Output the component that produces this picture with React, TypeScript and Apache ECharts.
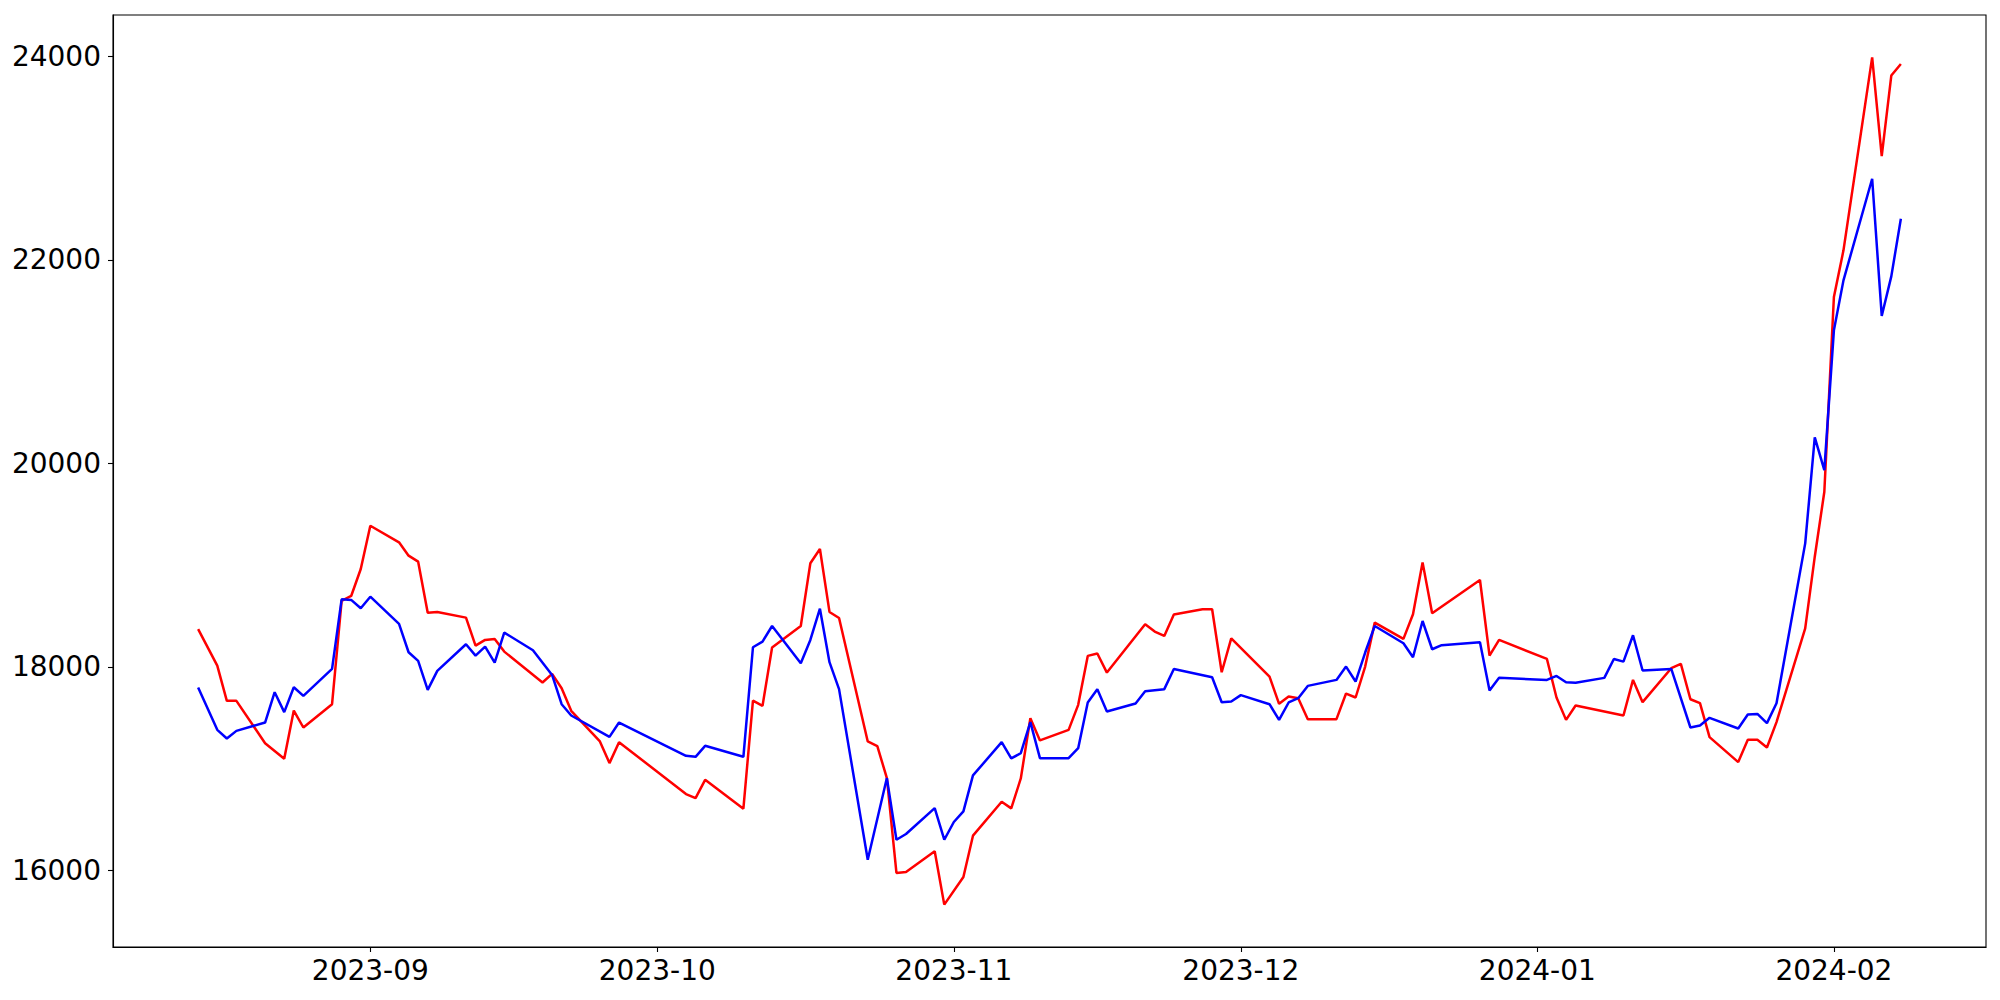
import React, { useEffect, useRef } from "react";
import * as echarts from "echarts";

const redDates: string[] = [
  "2023-08-14","2023-08-16","2023-08-17","2023-08-18","2023-08-21","2023-08-23","2023-08-24","2023-08-25",
  "2023-08-28","2023-08-29","2023-08-30","2023-08-31","2023-09-01","2023-09-04","2023-09-05","2023-09-06",
  "2023-09-07","2023-09-08","2023-09-11","2023-09-12","2023-09-13","2023-09-14","2023-09-15","2023-09-19",
  "2023-09-20","2023-09-21","2023-09-22","2023-09-25","2023-09-26","2023-09-27","2023-10-04","2023-10-05",
  "2023-10-06","2023-10-10","2023-10-11","2023-10-12","2023-10-13","2023-10-16","2023-10-17","2023-10-18",
  "2023-10-19","2023-10-20","2023-10-23","2023-10-24","2023-10-25","2023-10-26","2023-10-27","2023-10-30",
  "2023-10-31","2023-11-02","2023-11-03","2023-11-06","2023-11-07","2023-11-08","2023-11-09","2023-11-10",
  "2023-11-13","2023-11-14","2023-11-15","2023-11-16","2023-11-17","2023-11-21","2023-11-22","2023-11-23",
  "2023-11-24","2023-11-27","2023-11-28","2023-11-29","2023-11-30","2023-12-04","2023-12-05","2023-12-06",
  "2023-12-07","2023-12-08","2023-12-11","2023-12-12","2023-12-13","2023-12-14","2023-12-15","2023-12-18",
  "2023-12-19","2023-12-20","2023-12-21","2023-12-26","2023-12-27","2023-12-28","2024-01-02","2024-01-03",
  "2024-01-04","2024-01-05","2024-01-10","2024-01-11","2024-01-12","2024-01-15","2024-01-16","2024-01-17",
  "2024-01-18","2024-01-19","2024-01-22","2024-01-23","2024-01-24","2024-01-25","2024-01-26","2024-01-29",
  "2024-01-30","2024-01-31","2024-02-01","2024-02-02","2024-02-05","2024-02-06","2024-02-07","2024-02-08",
];
const redValues: number[] = [
  18370,18012,17665,17665,17249,17096,17570,17403,
  17632,18647,18696,18961,19386,19223,19092,19033,
  18532,18539,18483,18208,18264,18274,18149,17845,
  17930,17789,17567,17266,17053,17259,16749,16709,
  16889,16605,17668,17616,18189,18401,19017,19157,
  18539,18480,17266,17220,16906,15973,15983,16186,
  15662,15934,16340,16673,16608,16902,17495,17276,
  17380,17626,18107,18130,17943,18418,18346,18303,
  18513,18565,18565,17946,18280,17904,17636,17708,
  17691,17485,17485,17737,17698,18002,18434,18274,
  18516,19026,18526,18853,18110,18264,18077,17698,
  17478,17619,17521,17871,17652,17986,18028,17681,
  17642,17308,17063,17282,17282,17207,17456,18378,
  19082,19720,21634,22093,23990,23019,23811,23925,
];

const blueDates: string[] = [
  "2023-08-14","2023-08-16","2023-08-17","2023-08-18","2023-08-21","2023-08-22","2023-08-23","2023-08-24",
  "2023-08-25","2023-08-28","2023-08-29","2023-08-30","2023-08-31","2023-09-01","2023-09-04","2023-09-05",
  "2023-09-06","2023-09-07","2023-09-08","2023-09-11","2023-09-12","2023-09-13","2023-09-14","2023-09-15",
  "2023-09-18","2023-09-20","2023-09-21","2023-09-22","2023-09-26","2023-09-27","2023-10-04","2023-10-05",
  "2023-10-06","2023-10-10","2023-10-11","2023-10-12","2023-10-13","2023-10-16","2023-10-17","2023-10-18",
  "2023-10-19","2023-10-20","2023-10-23","2023-10-25","2023-10-26","2023-10-27","2023-10-30","2023-10-31",
  "2023-11-01","2023-11-02","2023-11-03","2023-11-06","2023-11-07","2023-11-08","2023-11-09","2023-11-10",
  "2023-11-13","2023-11-14","2023-11-15","2023-11-16","2023-11-17","2023-11-20","2023-11-21","2023-11-23",
  "2023-11-24","2023-11-28","2023-11-29","2023-11-30","2023-12-01","2023-12-04","2023-12-05","2023-12-06",
  "2023-12-07","2023-12-08","2023-12-11","2023-12-12","2023-12-13","2023-12-14","2023-12-15","2023-12-18",
  "2023-12-19","2023-12-20","2023-12-21","2023-12-22","2023-12-26","2023-12-27","2023-12-28","2024-01-02",
  "2024-01-03","2024-01-04","2024-01-05","2024-01-08","2024-01-09","2024-01-10","2024-01-11","2024-01-12",
  "2024-01-15","2024-01-17","2024-01-18","2024-01-19","2024-01-22","2024-01-23","2024-01-24","2024-01-25",
  "2024-01-26","2024-01-29","2024-01-30","2024-01-31","2024-02-01","2024-02-02","2024-02-05","2024-02-06",
  "2024-02-07","2024-02-08",
];
const blueValues: number[] = [
  17796,17380,17295,17370,17452,17750,17554,17799,
  17714,17979,18663,18657,18575,18689,18421,18143,
  18058,17773,17960,18221,18110,18198,18041,18336,
  18162,17920,17632,17521,17311,17452,17125,17115,
  17223,17115,18192,18247,18401,18035,18264,18571,
  18045,17780,16104,16906,16300,16356,16611,16300,
  16474,16579,16932,17259,17099,17151,17456,17102,
  17102,17200,17649,17780,17560,17639,17760,17780,
  17979,17897,17652,17659,17721,17632,17478,17649,
  17691,17812,17871,18002,17855,18140,18401,18231,
  18094,18450,18172,18212,18241,17766,17891,17871,
  17910,17848,17842,17891,18077,18051,18310,17963,
  17979,17403,17423,17498,17393,17531,17537,17446,
  17642,19213,20254,19933,21307,21798,22797,21448,
  21837,22404,
];

const xTickLabels: string[] = ["2023-09", "2023-10", "2023-11", "2023-12", "2024-01", "2024-02"];
const yTickValues: number[] = [16000, 18000, 20000, 22000, 24000];

const toTs = (s: string) => {
  const [y, m, d] = s.split("-").map(Number);
  return Date.UTC(y, m - 1, d ?? 1);
};

export default function App() {
  const ref = useRef<HTMLDivElement>(null);
  useEffect(() => {
    if (!ref.current) return;
    const chart = echarts.init(ref.current, undefined, { renderer: "svg" });
    const redData = redDates.map((d, i) => [toTs(d), redValues[i]]);
    const blueData = blueDates.map((d, i) => [toTs(d), blueValues[i]]);
    const allTs = [...redData, ...blueData].map((p) => p[0]);
    const allV = [...redValues, ...blueValues];
    const tMin = Math.min(...allTs);
    const tMax = Math.max(...allTs);
    const vMin = Math.min(...allV);
    const vMax = Math.max(...allV);
    const tPad = (tMax - tMin) * 0.05;
    const vPad = (vMax - vMin) * 0.05;
    const xTicks = xTickLabels.map(toTs);
    const labelOf: Record<number, string> = {};
    xTicks.forEach((t, i) => (labelOf[t] = xTickLabels[i]));
    const font = { fontFamily: "DejaVu Sans", fontSize: 28, color: "#000" };
    chart.setOption({
      animation: false,
      backgroundColor: "#fff",
      grid: {
        left: 113,
        right: 14,
        top: 15,
        bottom: 53,
        show: true,
        borderColor: "#000",
        borderWidth: 1.1,
        containLabel: false,
      },
      xAxis: {
        type: "value",
        min: tMin - tPad,
        max: tMax + tPad,
        axisLine: { show: true, lineStyle: { color: "#000", width: 1.1 } },
        axisTick: { show: true, inside: false, length: 5, lineStyle: { color: "#000", width: 1.1 }, customValues: xTicks },
        axisLabel: {
          ...font,
          margin: 9,
          customValues: xTicks,
          formatter: (v: number) => labelOf[v] ?? "",
        },
        splitLine: { show: false },
      },
      yAxis: {
        type: "value",
        min: vMin - vPad,
        max: vMax + vPad,
        axisLine: { show: true, lineStyle: { color: "#000", width: 1.1 } },
        axisTick: { show: true, inside: false, length: 5, lineStyle: { color: "#000", width: 1.1 }, customValues: yTickValues },
        axisLabel: { ...font, margin: 12, customValues: yTickValues, formatter: (v: number) => String(v) },
        splitLine: { show: false },
      },
      series: [
        {
          type: "line",
          data: redData,
          showSymbol: false,
          lineStyle: { color: "#ff0000", width: 2.5 },
          itemStyle: { color: "#ff0000" },
        },
        {
          type: "line",
          data: blueData,
          showSymbol: false,
          lineStyle: { color: "#0000ff", width: 2.5 },
          itemStyle: { color: "#0000ff" },
        },
      ],
    });
    return () => chart.dispose();
  }, []);
  return (
    <div
      ref={ref}
      style={{ position: "fixed", left: 0, top: 0, width: 2000, height: 1000, background: "#fff" }}
    />
  );
}
